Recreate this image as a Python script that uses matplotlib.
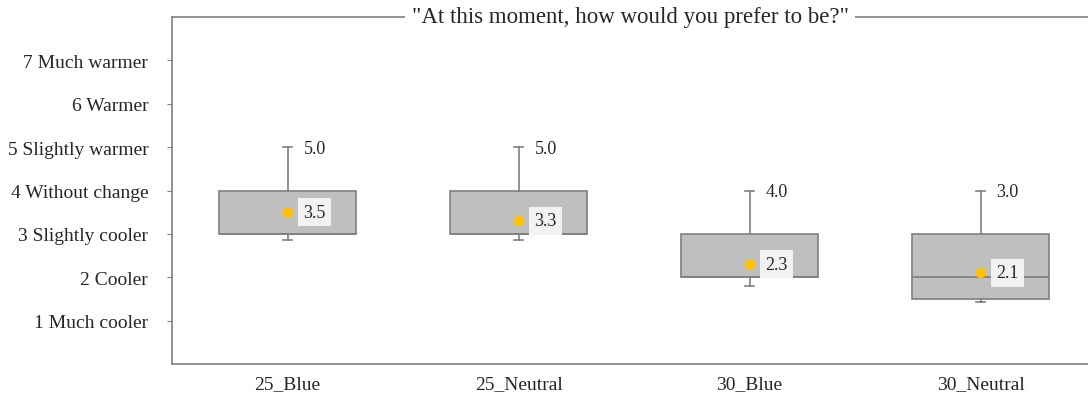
import matplotlib

matplotlib.use("Agg")
import matplotlib.pyplot as plt

plt.rcParams["font.family"] = ["Liberation Serif", "DejaVu Serif"]

# data
groups = ["25_Blue", "25_Neutral", "30_Blue", "30_Neutral"]
q1 = [3.0, 3.0, 2.0, 1.5]
q3 = [4.0, 4.0, 3.0, 3.0]
medians = [3.0, 3.0, 2.0, 2.0]
whisk_lo = [2.85, 2.85, 1.8, 1.42]
whisk_hi = [5.0, 5.0, 4.0, 4.0]
means = [3.5, 3.3, 2.3, 2.1]
max_labels = ["5.0", "5.0", "4.0", "3.0"]
mean_labels = ["3.5", "3.3", "2.3", "2.1"]
scale_ticks = [1, 2, 3, 4, 5, 6, 7]
scale_labels = ["1 Much cooler", "2 Cooler", "3 Slightly cooler", "4 Without change",
                "5 Slightly warmer", "6 Warmer", "7 Much warmer"]

box_fill, box_edge = "#bfbfbf", "#7f7f7f"
dot_c = "#ffc000"
txt_c = "#262626"

fig = plt.figure(figsize=(10.88, 4.02), dpi=100)
ax = fig.add_axes([172 / 1088, 37 / 402, (1088 - 172) / 1088, (365 - 18) / 402])

stats = [
    dict(q1=a, q3=b, med=m, whislo=lo, whishi=hi, fliers=[], label=g)
    for g, a, b, m, lo, hi in zip(groups, q1, q3, medians, whisk_lo, whisk_hi)
]
pos = list(range(len(groups)))
ax.bxp(stats, positions=pos, widths=0.59, patch_artist=True, showfliers=False,
       boxprops=dict(facecolor=box_fill, edgecolor=box_edge, linewidth=1.2),
       medianprops=dict(color=box_edge, linewidth=1.2),
       whiskerprops=dict(color=box_edge, linewidth=1.2),
       capprops=dict(color=box_edge, linewidth=1.2), capwidths=0.04)

ax.scatter(pos, means, s=58, color=dot_c, zorder=5, edgecolors="none")
for x, m, lab in zip(pos, means, mean_labels):
    ax.annotate(lab, (x, m), xytext=(11.5, 0), textcoords="offset points",
                ha="left", va="center", fontsize=13, color=txt_c, zorder=6,
                bbox=dict(boxstyle="square,pad=0.3", facecolor="#f2f2f2",
                          edgecolor="none"))
for x, hi, lab in zip(pos, whisk_hi, max_labels):
    ax.annotate(lab, (x, hi), xytext=(11.5, -1), textcoords="offset points",
                ha="left", va="center", fontsize=13, color=txt_c)

ax.set_xlim(-0.5, 3.465)
ax.set_ylim(0, 8)
ax.set_yticks(scale_ticks)
ax.set_yticklabels(scale_labels, fontsize=14, color=txt_c)
ax.set_xticks(pos)
ax.set_xticklabels(groups, fontsize=14, color=txt_c)
ax.tick_params(axis="x", length=0, pad=8)
ax.tick_params(axis="y", length=3.6, color=box_edge, pad=13.5)

for s in ("top", "right"):
    ax.spines[s].set_visible(False)
for s in ("left", "bottom"):
    ax.spines[s].set_color(box_edge)
    ax.spines[s].set_linewidth(1.2)

# top border line broken by the question text
ax.axhline(8, color=box_edge, linewidth=1.2, clip_on=False)
ax.text(0.5, 1.0, '"At this moment, how would you prefer to be?"',
        transform=ax.transAxes, ha="center", va="center", fontsize=16.5,
        color=txt_c, bbox=dict(boxstyle="square,pad=0.3", facecolor="white",
                               edgecolor="none"))

fig.savefig("out.png", dpi=100)
